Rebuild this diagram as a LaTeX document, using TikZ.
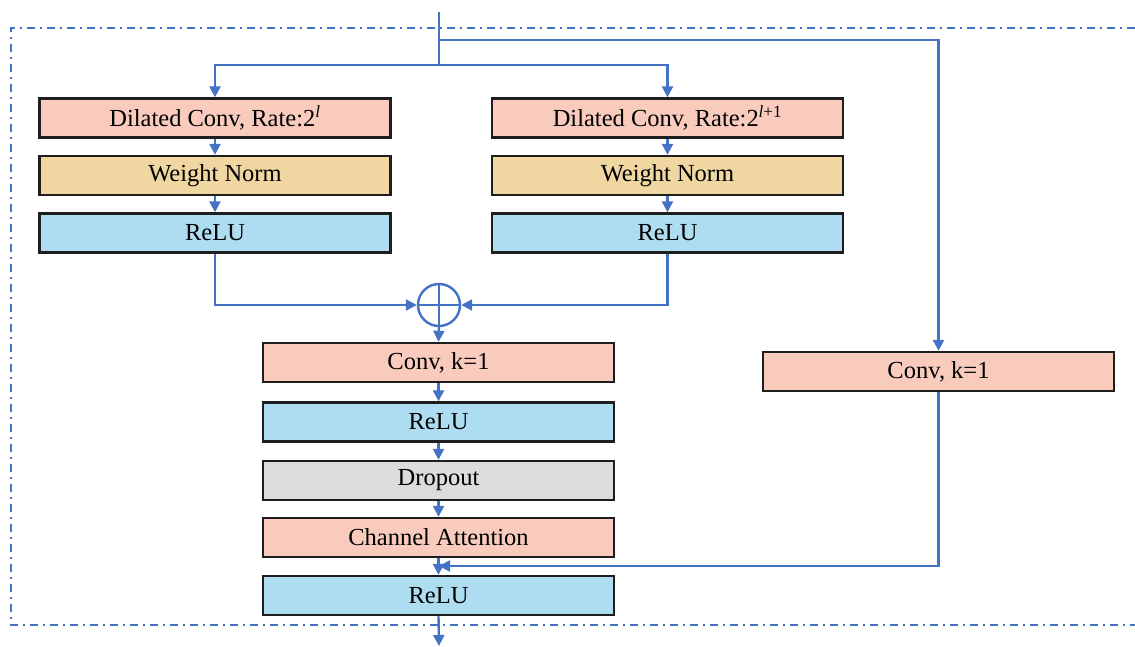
\documentclass[tikz,border=0pt]{standalone}
\usepackage{fontspec}
\setmainfont{Liberation Serif}
\usetikzlibrary{arrows.meta}
\definecolor{convpink}{RGB}{249,203,189}
\definecolor{normtan}{RGB}{240,214,161}
\definecolor{relublue}{RGB}{174,221,242}
\definecolor{dropgray}{RGB}{220,220,220}
\definecolor{flowblue}{RGB}{68,114,196}
\definecolor{edgeblack}{RGB}{30,30,30}
\tikzset{
  block/.style={draw=edgeblack, line width=2.4pt, minimum width=351pt, minimum height=39pt,
                inner sep=0pt, font=\fontsize{24.5}{28}\selectfont},
  conv/.style={block, fill=convpink},
  wnorm/.style={block, fill=normtan},
  relu/.style={block, fill=relublue},
  drop/.style={block, fill=dropgray},
  flow/.style={draw=flowblue, line width=2.4pt},
  arr/.style={flow, -{Triangle[length=11pt,width=11pt]}},
  frame/.style={draw=flowblue, line width=2.4pt, dash pattern=on 8pt off 5pt on 2pt off 5pt}
}
\begin{document}
\begin{tikzpicture}[x=1pt,y=-1pt]
\useasboundingbox (0,0) rectangle (1135,647);

% residual block frame, open on the right
\draw[frame] (1135,28) -- (11,28) -- (11,625) -- (1135,625);

% left dilated branch
\node[conv]  (dcA) at (215,118) {Dilated Conv, Rate:2\textsuperscript{\textit{l}}};
\node[wnorm] (wnA) at (215,175.5) {Weight Norm};
\node[relu]  (rlA) at (215,233) {ReLU};

% right dilated branch
\node[conv]  (dcB) at (667.5,118) {Dilated Conv, Rate:2\textsuperscript{\textit{l}+1}};
\node[wnorm] (wnB) at (667.5,175.5) {Weight Norm};
\node[relu]  (rlB) at (667.5,233) {ReLU};

% element-wise sum
\node[draw=flowblue, line width=2.4pt, circle, minimum size=42pt, inner sep=0pt] (sum) at (439,305) {};
\draw[flow] (sum.north) -- (sum.south);
\draw[flow] (sum.west) -- (sum.east);

% main path after the sum
\node[conv] (cv1) at (438.5,362.5) {Conv, k=1};
\node[relu] (rl1) at (438.5,422) {ReLU};
\node[drop] (dp)  at (438.5,480.5) {Dropout};
\node[conv] (ca)  at (438.5,537.5) {Channel Attention};
\node[relu] (rl2) at (438.5,595.5) {ReLU};

% shortcut convolution
\node[conv] (cvS) at (938.5,371.5) {Conv, k=1};

% input and split
\coordinate (in)   at (439,12);
\coordinate (sp)   at (439,65);
\coordinate (sk)   at (439,40);
\coordinate (out)  at (439,646);
\coordinate (join) at (439,566);

\draw[flow] (in) -- (sp);
\draw[arr] (sp) -| (dcA.north);
\draw[arr] (sp) -| (dcB.north);
\draw[arr] (sk) -| (cvS.north);

\draw[arr] (dcA) -- (wnA);
\draw[arr] (wnA) -- (rlA);
\draw[arr] (dcB) -- (wnB);
\draw[arr] (wnB) -- (rlB);

\draw[arr] (rlA.south) |- (sum.west);
\draw[arr] (rlB.south) |- (sum.east);
\draw[arr] (sum.south) -- (cv1.north);

\draw[arr] (cv1) -- (rl1);
\draw[arr] (rl1) -- (dp);
\draw[arr] (dp) -- (ca);
\draw[arr] (ca) -- (rl2);

\draw[arr] (cvS.south) |- (join);
\draw[arr] (rl2.south) -- (out);
\end{tikzpicture}
\end{document}
